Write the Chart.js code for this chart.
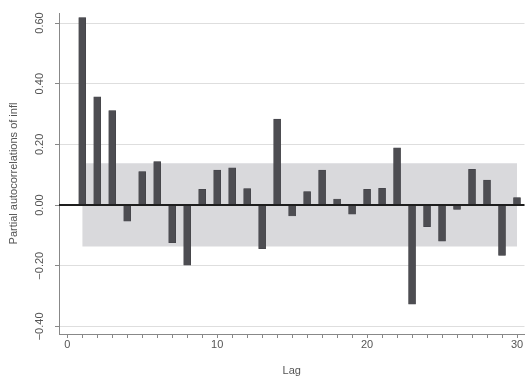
<!DOCTYPE html>
<html>
<head>
<meta charset="utf-8">
<script src="https://cdn.jsdelivr.net/npm/chart.js@4/dist/chart.umd.min.js"></script>
<style>
  body { margin: 0; background: #fff; }
  canvas { display: block; }
</style>
</head>
<body>
<canvas id="pacf" width="525" height="378"></canvas>
<script>
/* --------------- Data --------------- */
var lags = [1, 2, 3, 4, 5, 6, 7, 8, 9, 10, 11, 12, 13, 14, 15,
            16, 17, 18, 19, 20, 21, 22, 23, 24, 25, 26, 27, 28, 29, 30];
var pacf = [0.618, 0.357, 0.311, -0.053, 0.110, 0.143, -0.124, -0.198, 0.052, 0.115,
            0.123, 0.054, -0.144, 0.283, -0.036, 0.044, 0.115, 0.020, -0.030, 0.052,
            0.055, 0.189, -0.327, -0.071, -0.119, -0.014, 0.118, 0.082, -0.166, 0.025];

/* 95% band (grey box) */
var bandLags = [1, 30];
var bandUpper = [0.138, 0.138];
var bandLower = [-0.137, -0.137];

/* axis ticks */
var yTickValues = [-0.4, -0.2, 0, 0.2, 0.4, 0.6];
var xTickValues = [0, 1, 2, 3, 4, 5, 6, 7, 8, 9, 10, 11, 12, 13, 14, 15,
                   16, 17, 18, 19, 20, 21, 22, 23, 24, 25, 26, 27, 28, 29, 30];
var xTickLabels = [0, 10, 20, 30];

var yTitle = "Partial autocorrelations of infl";
var xTitle = "Lag";

/* --------------- Zero line over band and bars --------------- */
var zeroLine = {
  id: "zeroLine",
  afterDatasetsDraw: function (chart) {
    var ctx = chart.ctx;
    var area = chart.chartArea;
    var y = chart.scales.y.getPixelForValue(0);
    ctx.save();
    ctx.strokeStyle = "#1e1e1e";
    ctx.lineWidth = 2;
    ctx.beginPath();
    ctx.moveTo(area.left, y);
    ctx.lineTo(area.right, y);
    ctx.stroke();
    ctx.restore();
  }
};

var tickFont = { family: "Liberation Sans, Arial, sans-serif", size: 11 };

new Chart(document.getElementById("pacf"), {
  type: "bar",
  plugins: [zeroLine],
  data: {
    datasets: [
      {
        type: "bar",
        data: lags.map(function (l, i) { return { x: l, y: pacf[i] }; }),
        backgroundColor: "#4d4d52",
        borderColor: "#3f3f44",
        borderWidth: 0.5,
        barThickness: 7,
        order: 1
      },
      {
        type: "line",
        data: bandLags.map(function (l, i) { return { x: l, y: bandUpper[i] }; }),
        borderWidth: 0,
        pointRadius: 0,
        backgroundColor: "#d9d9dc",
        fill: "+1",
        order: 3
      },
      {
        type: "line",
        data: bandLags.map(function (l, i) { return { x: l, y: bandLower[i] }; }),
        borderWidth: 0,
        pointRadius: 0,
        fill: false,
        order: 2
      }
    ]
  },
  options: {
    responsive: false,
    animation: false,
    layout: { padding: { top: 13, right: 0.5, left: 0, bottom: 0 } },
    plugins: {
      legend: { display: false },
      tooltip: { enabled: false }
    },
    scales: {
      x: {
        type: "linear",
        offset: false,
        min: -0.55,
        max: 30.5,
        afterBuildTicks: function (scale) {
          scale.ticks = xTickValues.map(function (v) { return { value: v }; });
        },
        afterFit: function (scale) { scale.height = 44; },
        ticks: {
          autoSkip: false,
          maxRotation: 0,
          padding: 0,
          color: "#555",
          font: tickFont,
          callback: function (v) {
            return xTickLabels.indexOf(v) >= 0 ? String(v) : "";
          }
        },
        grid: {
          offset: false,
          drawOnChartArea: false,
          tickLength: 4,
          tickColor: "#888"
        },
        border: { color: "#888", width: 1 },
        title: {
          display: true,
          text: xTitle,
          color: "#555",
          font: { family: "Liberation Sans, Arial, sans-serif", size: 11 },
          padding: { top: 0, bottom: 0 }
        }
      },
      y: {
        type: "linear",
        min: -0.425,
        max: 0.633,
        afterBuildTicks: function (scale) {
          scale.ticks = yTickValues.map(function (v) { return { value: v }; });
        },
        afterFit: function (scale) { scale.width = 59; },
        ticks: {
          autoSkip: false,
          minRotation: 90,
          maxRotation: 90,
          crossAlign: "center",
          padding: 1.5,
          color: "#555",
          font: tickFont,
          callback: function (v) {
            return v.toFixed(2).replace("-", "\u2212");
          }
        },
        grid: {
          color: "#dedede",
          lineWidth: 1,
          tickLength: 4,
          tickColor: "#888"
        },
        border: { color: "#888", width: 1 },
        title: {
          display: true,
          text: yTitle,
          color: "#555",
          font: { family: "Liberation Sans, Arial, sans-serif", size: 11 },
          padding: { top: 7, bottom: 0 }
        }
      }
    }
  }
});
</script>
</body>
</html>
